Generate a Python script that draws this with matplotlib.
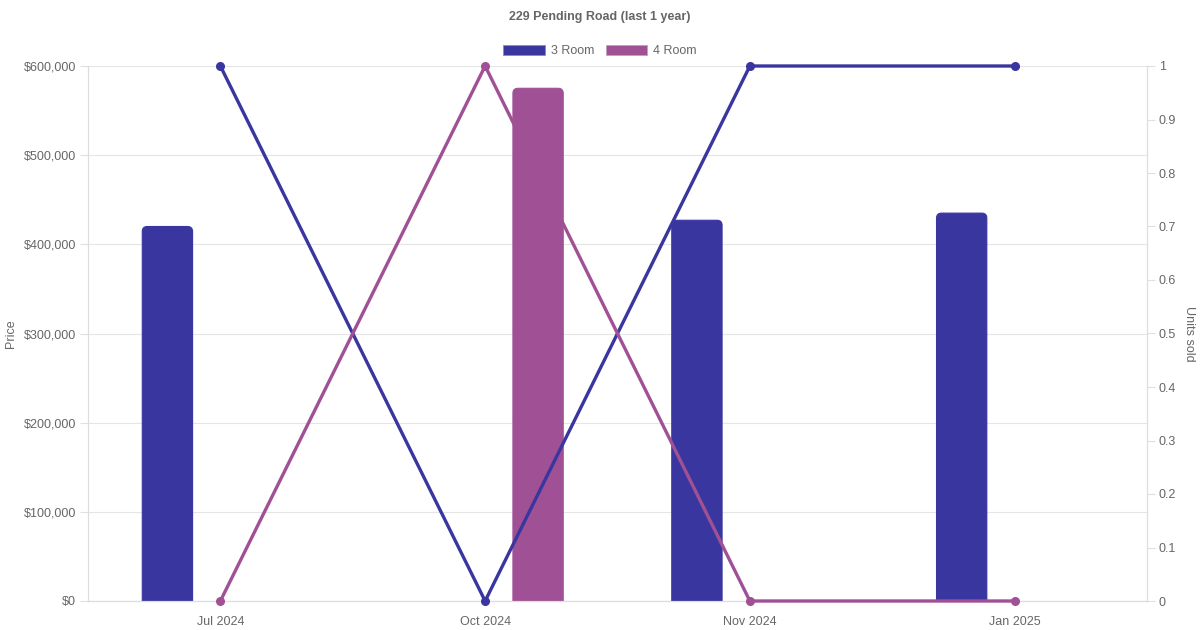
import matplotlib.pyplot as plt
from matplotlib.patches import FancyBboxPatch, Patch
from matplotlib.ticker import FuncFormatter, MultipleLocator
import numpy as np

plt.rcParams['font.family'] = ['Liberation Sans', 'DejaVu Sans']

# dados
meses = ["Jul 2024", "Oct 2024", "Nov 2024", "Jan 2025"]
preco_3room = [420000, None, 427000, 435000]
preco_4room = [None, 575000, None, None]
vendas_3room = [1, 0, 1, 1]
vendas_4room = [0, 1, 0, 0]

cor_3 = "#3a36a0"
cor_4 = "#a05195"
cinza = "#666666"

fig = plt.figure(figsize=(12, 6.3), dpi=100)
ax = fig.add_axes([88/1200, 1 - 601/630, (1147 - 88)/1200, (601 - 66)/630])
ax2 = ax.twinx()

x = np.arange(len(meses))
largura = 0.19
desloc = 0.2

# mutation_aspect: unidades y por unidade x (para cantos arredondados)
px_x = (1147 - 88) / 4.0
px_y = (601 - 66) / 600000.0
aspecto = px_x / px_y
raio = 5 / px_x


def barras_arredondadas(valores, offset, cor):
    xs = [xi + offset for xi, v in zip(x, valores) if v is not None]
    hs = [v for v in valores if v is not None]
    barras = ax.bar(xs, hs, width=largura, color=cor)
    for b in barras:
        b.set_visible(False)
        p = FancyBboxPatch((b.get_x(), -30000), b.get_width(), b.get_height() + 30000,
                           boxstyle=f"round,pad=0,rounding_size={raio}",
                           mutation_aspect=aspecto, facecolor=cor,
                           edgecolor=cor, linewidth=0.8, zorder=2)
        ax.add_patch(p)


barras_arredondadas(preco_3room, -desloc, cor_3)
barras_arredondadas(preco_4room, desloc, cor_4)

ax2.plot(x, vendas_3room, color=cor_3, lw=2.4, marker='o', ms=5.5, zorder=3, clip_on=False)
ax2.plot(x, vendas_4room, color=cor_4, lw=2.4, marker='o', ms=5.5, zorder=3, clip_on=False)

ax.set_xlim(-0.5, 3.5)
ax.set_ylim(0, 600000)
ax2.set_ylim(0, 1)

ax.set_xticks(x)
ax.set_xticklabels(meses)
ax.yaxis.set_major_locator(MultipleLocator(100000))
ax.yaxis.set_major_formatter(FuncFormatter(lambda v, p: f"${v:,.0f}"))
ax2.yaxis.set_major_locator(MultipleLocator(0.1))
ax2.yaxis.set_major_formatter(FuncFormatter(lambda v, p: f"{v:.1f}".rstrip('0').rstrip('.')))

ax.grid(axis='y', color='#e5e5e5', lw=0.8)
ax.set_axisbelow(True)

for a in (ax, ax2):
    a.tick_params(axis='y', colors='#e0e0e0', labelcolor=cinza, labelsize=9, length=6, width=0.8, pad=2.5)
    a.tick_params(axis='x', length=0, labelcolor=cinza, labelsize=9, pad=11)
    for s in a.spines.values():
        s.set_color('#dddddd')
        s.set_linewidth(0.8)
    a.spines['top'].set_visible(False)
ax.spines['bottom'].set_color('#cccccc')

fig.text(11/1200, 1 - 334/630, "Price", rotation=90, ha='center', va='center',
         color=cinza, fontsize=9)
fig.text(1189/1200, 1 - 334/630, "Units sold", rotation=270, ha='center', va='center',
         color=cinza, fontsize=9)

fig.text(0.5, 1 - 17/630, "229 Pending Road (last 1 year)", ha='center', va='center',
         fontsize=9, fontweight='bold', color=cinza)

# legenda
h = [Patch(facecolor=cor_3, edgecolor='#8c89c8', lw=0.6, label="3 Room"),
     Patch(facecolor=cor_4, edgecolor='#c99ac0', lw=0.6, label="4 Room")]
fig.legend(handles=h, loc='center', bbox_to_anchor=(0.5, 1 - 51/630), ncol=2, frameon=False,
           fontsize=9, labelcolor=cinza, handlelength=3.3, handleheight=0.9,
           handletextpad=0.5, columnspacing=0.9)

plt.savefig("out.png", dpi=100)
